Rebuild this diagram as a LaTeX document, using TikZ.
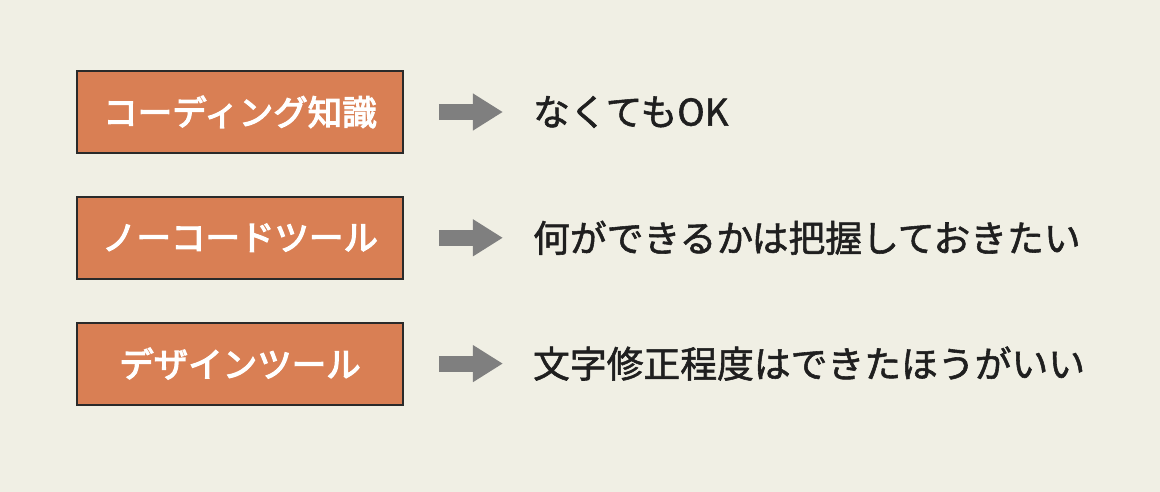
\documentclass[tikz,border=0pt]{standalone}
\usepackage{fontspec}
\newfontfamily\jpfont[FakeBold=1.5]{Noto Sans CJK JP}
\newfontfamily\jpboxfont[FakeBold=3.5]{Noto Sans CJK JP}
\usepackage{tikz}
\usetikzlibrary{positioning,arrows.meta}

\definecolor{paper}{HTML}{F0EFE4}
\definecolor{boxfill}{HTML}{D97F54}
\definecolor{boxline}{HTML}{2A2A2A}
\definecolor{arrowgrey}{HTML}{7F7F7F}
\definecolor{inkdark}{HTML}{1F1F1F}

\begin{document}
\begin{tikzpicture}[x=1pt,y=-1pt,
  itembox/.style={draw=boxline,line width=1.8pt,fill=boxfill,
    minimum width=326pt,minimum height=82pt,inner sep=0pt,
    text=white,font=\jpboxfont\fontsize{34.5}{38}\selectfont},
  note/.style={inner sep=0pt,anchor=west,text=inkdark,
    font=\jpfont\fontsize{36.8}{40}\selectfont},
  goarrow/.style={draw=arrowgrey,line width=16pt,
    -{Triangle[length=30pt,width=35pt]},shorten <=35pt,shorten >=30pt}]
  \fill[paper] (0,0) rectangle (1160,492);
  % boxes on the left
  \node[itembox] (code) at (240,112) {コーディング知識};
  \node[itembox,below=42pt of code] (nocode) {ノーコードツール};
  \node[itembox,below=42pt of nocode] (design) {デザインツール};
  % notes on the right
  \node[note,right=129pt of code] (codenote) {なくてもOK};
  \node[note,right=129pt of nocode] (nocodenote) {何ができるかは把握しておきたい};
  \node[note,right=129pt of design] (designnote) {文字修正程度はできたほうがいい};
  % arrows
  \draw[goarrow] (code.east) -- (code.east -| codenote.west);
  \draw[goarrow] (nocode.east) -- (nocode.east -| nocodenote.west);
  \draw[goarrow] (design.east) -- (design.east -| designnote.west);
\end{tikzpicture}
\end{document}
